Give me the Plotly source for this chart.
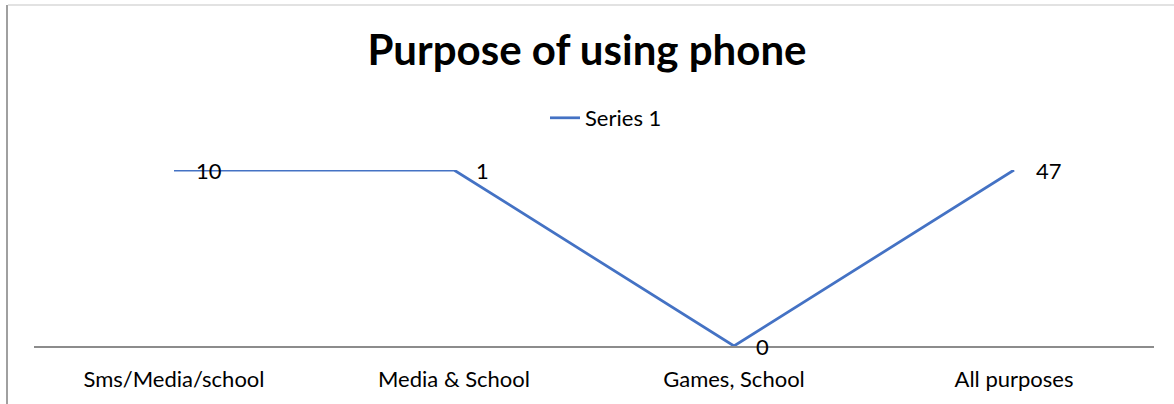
import plotly.graph_objects as go

categories = ["Sms/Media/school", "Media & School", "Games, School", "All purposes"]
values = [10, 1, 0, 47]
series_name = "Series 1"
title_text = "Purpose of using phone"
axis_max = 1  # value axis maximum; values above are drawn at the top edge (as in the source)

plotted = [min(v, axis_max) for v in values]

W, H = 1174, 404
L, R, T, B = 34, 20, 170, 58
pw = W - L - R
ph = H - T - B
FONT = "Lato, Open Sans, sans-serif"

fig = go.Figure()
fig.add_trace(go.Scatter(
    x=categories, y=plotted, mode="lines", name=series_name,
    line=dict(color="#4472C4", width=2.75),
    showlegend=True,
))

for c, v, p in zip(categories, values, plotted):
    fig.add_annotation(x=c, y=p, text=str(v), showarrow=False,
                       xanchor="left", yanchor="middle", xshift=20,
                       font=dict(family=FONT, size=22, color="#000"))

def px_x(x):
    return (x - L) / pw

def px_y(y):
    return (H - B - y) / ph

fig.add_shape(type="line", xref="paper", yref="paper",
              x0=px_x(8), x1=px_x(1174), y0=px_y(5), y1=px_y(5),
              line=dict(color="#d9d9d9", width=1.5))
fig.add_shape(type="line", xref="paper", yref="paper",
              x0=px_x(7), x1=px_x(7), y0=px_y(5), y1=px_y(404),
              line=dict(color="#a0a0a0", width=2))

fig.update_layout(
    width=W, height=H,
    margin=dict(l=L, r=R, t=T, b=B),
    paper_bgcolor="white", plot_bgcolor="white",
    title=dict(text="<b>" + title_text + "</b>", x=0.5, xanchor="center",
               y=1 - 50 / H, yanchor="middle",
               font=dict(family=FONT, size=42, color="#000")),
    legend=dict(orientation="h", x=px_x(606), xanchor="center", y=px_y(118), yanchor="middle",
                font=dict(family=FONT, size=22, color="#000"),
                bgcolor="rgba(0,0,0,0)"),
    xaxis=dict(type="category", range=[-0.5, 3.5], showgrid=False, zeroline=False,
               showline=True, linecolor="#8c8c8c", linewidth=2, ticks="",
               ticklabelstandoff=13,
               tickfont=dict(family=FONT, size=22, color="#000")),
    yaxis=dict(range=[0, axis_max], visible=False, showgrid=False, zeroline=False),
)

fig.write_html("out.html")
